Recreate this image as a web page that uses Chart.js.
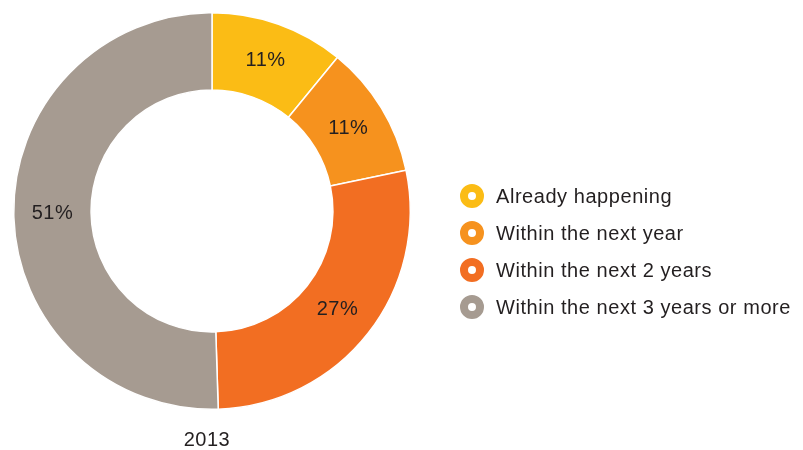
<!DOCTYPE html>
<html lang="en">
<head>
    <meta charset="utf-8" />
    <title>2013 timing</title>
    <script src="https://cdn.jsdelivr.net/npm/chart.js"></script>
    <style>
        html, body { margin: 0; padding: 0; background: #fff; }
        body { width: 803px; height: 450px; position: relative; overflow: hidden;
               font-family: "Liberation Sans", Arial, sans-serif; color: #231f20; }
        #wrap { position: absolute; left: 0; top: 0; width: 803px; height: 450px; }
        #year { position: absolute; left: 157px; width: 100px; top: 428px; text-align: center;
                font-size: 20px; letter-spacing: 0.5px; }
        #legend { position: absolute; left: 460px; top: 184px; list-style: none; margin: 0; padding: 0; }
        #legend li { height: 37px; display: flex; align-items: flex-start; font-size: 20px; line-height: 25px;
                     letter-spacing: 0.55px; }
        #legend .dot { width: 8px; height: 8px; border: 8.5px solid; border-radius: 50%; background: #fff;
                       margin-right: 12px; flex: none; }
    </style>
</head>
<body>
<div id="wrap"><canvas id="donut" width="803" height="450"></canvas></div>
<ul id="legend"></ul>
<div id="year">2013</div>

<script>
    // share of respondents, 2013
    var categories = ["Already happening", "Within the next year", "Within the next 2 years", "Within the next 3 years or more"];
    var shares = [10.9, 10.8, 27.8, 50.5];
    var shareLabels = ["11%", "11%", "27%", "51%"];
    var colors = ["#fbbc15", "#f6921e", "#f26e22", "#a69b91"];

    // percentages written in the middle of each ring slice
    var sliceLabels = {
        id: 'sliceLabels',
        afterDatasetsDraw: function (chart) {
            var ctx = chart.ctx;
            var meta = chart.getDatasetMeta(0);
            ctx.save();
            ctx.font = '20px "Liberation Sans", Arial, sans-serif';
            ctx.letterSpacing = '0.5px';
            ctx.fillStyle = '#231f20';
            ctx.textAlign = 'center';
            ctx.textBaseline = 'middle';
            meta.data.forEach(function (arc, i) {
                var p = arc.getCenterPoint();
                ctx.fillText(shareLabels[i], p.x, p.y);
            });
            ctx.restore();
        }
    };

    var donutCtx = document.getElementById('donut').getContext('2d');
    var donut = new Chart(donutCtx, {
        type: 'doughnut',
        data: {
            labels: categories,
            datasets: [{
                data: shares,
                backgroundColor: colors,
                borderColor: '#ffffff',
                borderWidth: 1.5
            }]
        },
        options: {
            responsive: false,
            animation: false,
            cutout: '61%',
            layout: { padding: { left: 13, top: 12, right: 392, bottom: 40 } },
            plugins: {
                legend: { display: false },
                tooltip: { enabled: false }
            }
        },
        plugins: [sliceLabels]
    });

    // legend built from the same arrays
    var legend = document.getElementById('legend');
    categories.forEach(function (name, i) {
        var li = document.createElement('li');
        var dot = document.createElement('span');
        dot.className = 'dot';
        dot.style.borderColor = colors[i];
        li.appendChild(dot);
        li.appendChild(document.createTextNode(name));
        legend.appendChild(li);
    });
</script>
</body>
</html>
